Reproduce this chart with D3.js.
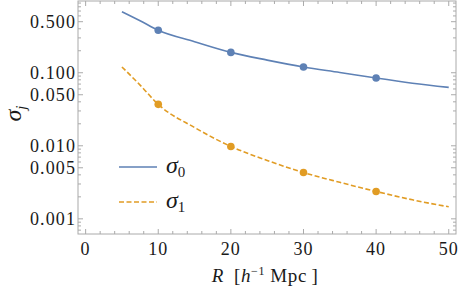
<!DOCTYPE html>
<html>
<head>
<meta charset="utf-8">
<script src="https://cdn.jsdelivr.net/npm/d3@7"></script>
<style>
  body { margin: 0; background: #fff; }
  svg { display: block; }
  text { font-family: "Liberation Serif", "DejaVu Serif", serif; fill: #1a1a1a; }
</style>
</head>
<body>
<figure id="chart" style="margin:0"></figure>
<script>
// curve samples, R in h^-1 Mpc
const curveR = [5, 7.5, 10, 15, 20, 25, 30, 35, 40, 45, 50];
const sigma0Curve = [0.685, 0.515, 0.381, 0.266, 0.19, 0.149, 0.12, 0.101, 0.0846, 0.072, 0.063];
const sigma1Curve = [0.12, 0.0678, 0.0369, 0.0178, 0.0098, 0.0063, 0.0043, 0.00316, 0.00237, 0.00182, 0.00146];

// measured points
const pointR = [10, 20, 30, 40];
const sigma0Points = [0.381, 0.19, 0.12, 0.0846];
const sigma1Points = [0.0369, 0.0098, 0.0043, 0.00237];

const xTicks = [0, 10, 20, 30, 40, 50];
const yTicks = [0.001, 0.005, 0.01, 0.05, 0.1, 0.5];
const yTickLabels = ["0.001", "0.005", "0.010", "0.050", "0.100", "0.500"];

const width = 460, height = 289;
const margin = { top: 1, right: 4, bottom: 55, left: 78 };

const svg = d3.select("figure#chart")
  .append("svg")
  .attr("width", width)
  .attr("height", height);

const x = d3.scaleLinear()
  .domain([-1.05, 51.0])
  .range([margin.left, width - margin.right]);

const y = d3.scaleLog()
  .domain([0.00062, 0.96])
  .range([height - margin.bottom, margin.top]);

const frameColor = "#aaa";
const blue = "#5E81B5";
const orange = "#E19C24";

// minor ticks
const xMinor = d3.range(0, 51, 2).filter(v => !xTicks.includes(v));
const yMinor = [];
[0.0001, 0.001, 0.01, 0.1].forEach(dec => {
  for (let k = 1; k <= 9; k++) {
    const v = dec * k;
    if (v >= y.domain()[0] && v <= y.domain()[1] && !yTicks.some(t => Math.abs(t - v) < 1e-9)) yMinor.push(v);
  }
});

const x0 = margin.left, x1 = width - margin.right;
const y0 = height - margin.bottom, y1 = margin.top;

const ticks = svg.append("g").attr("stroke", frameColor).attr("stroke-width", 1);

// x ticks bottom + top
xTicks.forEach(v => {
  ticks.append("line").attr("x1", x(v)).attr("x2", x(v)).attr("y1", y0).attr("y2", y0 - 5);
  ticks.append("line").attr("x1", x(v)).attr("x2", x(v)).attr("y1", y1).attr("y2", y1 + 5);
});
xMinor.forEach(v => {
  ticks.append("line").attr("x1", x(v)).attr("x2", x(v)).attr("y1", y0).attr("y2", y0 - 3);
  ticks.append("line").attr("x1", x(v)).attr("x2", x(v)).attr("y1", y1).attr("y2", y1 + 3);
});
// y ticks left + right
yTicks.forEach(v => {
  ticks.append("line").attr("y1", y(v)).attr("y2", y(v)).attr("x1", x0).attr("x2", x0 + 5);
  ticks.append("line").attr("y1", y(v)).attr("y2", y(v)).attr("x1", x1).attr("x2", x1 - 5);
});
yMinor.forEach(v => {
  ticks.append("line").attr("y1", y(v)).attr("y2", y(v)).attr("x1", x0).attr("x2", x0 + 3);
  ticks.append("line").attr("y1", y(v)).attr("y2", y(v)).attr("x1", x1).attr("x2", x1 - 3);
});

// frame
svg.append("rect")
  .attr("x", x0).attr("y", y1)
  .attr("width", x1 - x0).attr("height", y0 - y1)
  .attr("fill", "none")
  .attr("stroke", frameColor)
  .attr("stroke-width", 1);

// tick labels
svg.append("g").selectAll("text")
  .data(xTicks)
  .join("text")
  .attr("x", d => x(d))
  .attr("y", y0 + 21)
  .attr("text-anchor", "middle")
  .attr("font-size", 18)
  .attr("letter-spacing", 1.1)
  .text(d => d);

svg.append("g").selectAll("text")
  .data(yTicks)
  .join("text")
  .attr("x", x0 - 2)
  .attr("y", d => y(d) + 6)
  .attr("text-anchor", "end")
  .attr("font-size", 18)
  .attr("letter-spacing", 1.1)
  .text((d, i) => yTickLabels[i]);

// curves
const line = d3.line()
  .x(d => x(d[0]))
  .y(d => y(d[1]))
  .curve(d3.curveMonotoneX);

svg.append("path")
  .datum(curveR.map((r, i) => [r, sigma0Curve[i]]))
  .attr("d", line)
  .attr("fill", "none")
  .attr("stroke", blue)
  .attr("stroke-width", 1.6);

svg.append("path")
  .datum(curveR.map((r, i) => [r, sigma1Curve[i]]))
  .attr("d", line)
  .attr("fill", "none")
  .attr("stroke", orange)
  .attr("stroke-width", 1.6)
  .attr("stroke-dasharray", "5,2.5");

svg.append("g").selectAll("circle")
  .data(pointR.map((r, i) => [r, sigma0Points[i]]))
  .join("circle")
  .attr("cx", d => x(d[0]))
  .attr("cy", d => y(d[1]))
  .attr("r", 3.8)
  .attr("fill", blue);

svg.append("g").selectAll("circle")
  .data(pointR.map((r, i) => [r, sigma1Points[i]]))
  .join("circle")
  .attr("cx", d => x(d[0]))
  .attr("cy", d => y(d[1]))
  .attr("r", 3.8)
  .attr("fill", orange);

// legend
const legend = svg.append("g");
const legendItems = [
  { color: blue, dash: null, sub: "0", y: 167 },
  { color: orange, dash: "5,2.5", sub: "1", y: 202 }
];
legendItems.forEach(it => {
  legend.append("line")
    .attr("x1", 119).attr("x2", 157)
    .attr("y1", it.y).attr("y2", it.y)
    .attr("stroke", it.color)
    .attr("stroke-width", 1.6)
    .attr("stroke-dasharray", it.dash);
  const t = legend.append("text")
    .attr("x", 166).attr("y", it.y + 6)
    .attr("font-size", 24);
  t.append("tspan").attr("font-style", "italic").text("σ");
  t.append("tspan").attr("font-size", 15).attr("dy", 4).text(it.sub);
});

// axis labels
const ylab = svg.append("text")
  .attr("transform", `translate(21, ${(y0 + y1) / 2 - 4}) rotate(-90)`)
  .attr("text-anchor", "middle")
  .attr("font-size", 24);
ylab.append("tspan").attr("font-style", "italic").text("σ");
ylab.append("tspan").attr("font-style", "italic").attr("font-size", 15).attr("dy", 5).text("j");

const xlab = svg.append("text")
  .attr("x", (x0 + x1) / 2 - 2)
  .attr("y", 282)
  .attr("text-anchor", "middle")
  .attr("font-size", 19)
  .attr("letter-spacing", 0.6);
xlab.append("tspan").attr("font-style", "italic").text("R");
xlab.append("tspan").text("\u2002[");
xlab.append("tspan").attr("font-style", "italic").text("h");
xlab.append("tspan").attr("font-size", 12).attr("dy", -7).text("\u22121");
xlab.append("tspan").attr("dy", 7).text(" Mpc");
xlab.append("tspan").text("\u2009]");
</script>
</body>
</html>
